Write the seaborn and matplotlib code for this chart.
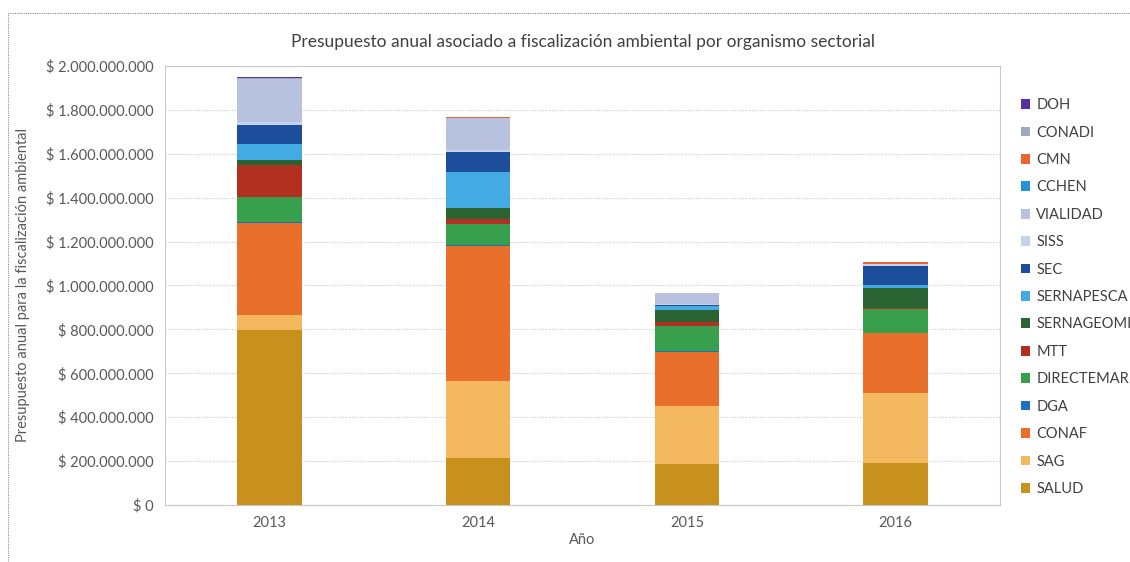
import numpy as np
import pandas as pd
import matplotlib.pyplot as plt
import matplotlib.ticker as mticker
import seaborn as sns

# Presupuesto por organismo (pesos), orden de abajo hacia arriba
years = ["2013", "2014", "2015", "2016"]
organismos = ["SALUD", "SAG", "CONAF", "DGA", "DIRECTEMAR", "MTT", "SERNAGEOMIN",
              "SERNAPESCA", "SEC", "SISS", "VIALIDAD", "CCHEN", "CMN", "CONADI", "DOH"]
salud = [797e6, 213e6, 187e6, 190e6]
sag = [68e6, 352e6, 264e6, 322e6]
conaf = [418e6, 615e6, 247e6, 271e6]
dga = [5e6, 5e6, 2e6, 2e6]
directemar = [114e6, 96e6, 114e6, 107e6]
mtt = [149e6, 21e6, 18e6, 5e6]
sernageomin = [21e6, 50e6, 56e6, 91e6]
sernapesca = [73e6, 167e6, 20e6, 15e6]
sec = [88e6, 91e6, 5e6, 87e6]
siss = [10e6, 8e6, 4e6, 9e6]
vialidad = [199e6, 144e6, 51e6, 0]
cchen = [0, 0, 0, 0]
cmn = [0, 4e6, 0, 10e6]
conadi = [3e6, 0, 0, 0]
doh = [3e6, 0, 0, 0]

series = [salud, sag, conaf, dga, directemar, mtt, sernageomin,
          sernapesca, sec, siss, vialidad, cchen, cmn, conadi, doh]
colors = ["#C8901C", "#F4B860", "#E8702C", "#1F6FC4", "#38A04C", "#B23020",
          "#2A6432", "#44AAE2", "#1C4E9C", "#C4D2EA", "#B8C2DE", "#2492D8",
          "#EA6434", "#A0A8BE", "#5A32A0"]

df = pd.DataFrame(np.array(series).T, columns=organismos, index=years)
cum = df.cumsum(axis=1)

sns.set_theme(style="white")
plt.rcParams["font.family"] = ["Lato", "DejaVu Sans"]

fig = plt.figure(figsize=(11.3, 5.62), dpi=100)
ax = fig.add_axes([0.146, 0.1014, 0.739, 0.7812])

# barras apiladas: se dibuja del total acumulado hacia abajo
for name, col in zip(organismos[::-1], colors[::-1]):
    sns.barplot(x=years, y=cum[name].values, color=col, saturation=1,
                width=0.31, linewidth=0, label=name, ax=ax)

ax.set_ylim(0, 2e9)
ax.set_xlim(-0.5, 3.5)
ax.yaxis.set_major_locator(mticker.MultipleLocator(2e8))
ax.yaxis.set_major_formatter(mticker.FuncFormatter(
    lambda v, p: "$ " + f"{int(round(v)):,}".replace(",", ".")))
ax.grid(axis="y", color="#C8C8C8", linestyle=(0, (1, 1.5)), linewidth=0.8)
ax.set_axisbelow(True)
for s in ax.spines.values():
    s.set_color("#C8C8C8")
    s.set_linewidth(0.8)
ax.tick_params(axis="both", labelsize=10.5, labelcolor="#595959", length=0, pad=8)

ax.set_title("Presupuesto anual asociado a fiscalización ambiental por organismo sectorial",
             fontsize=12.5, color="#404040", pad=14)
ax.set_xlabel("Año", fontsize=10.5, color="#595959", labelpad=2)
ax.set_ylabel("Presupuesto anual para la fiscalización ambiental", fontsize=10.5,
              color="#595959", labelpad=12)

ax.legend(loc="upper left", bbox_to_anchor=(1.018, 0.94), frameon=False,
          fontsize=10.5, labelcolor="#404040", handlelength=0.65, handleheight=0.65,
          handletextpad=0.4, labelspacing=0.92, borderaxespad=0)

fig.patches.append(plt.Rectangle((0.007, -0.1), 1.2, 1.077, transform=fig.transFigure,
                                 fill=False, edgecolor="#8C8C8C", linewidth=0.8,
                                 linestyle=(0, (1, 1))))

fig.savefig("out.png", dpi=100)
